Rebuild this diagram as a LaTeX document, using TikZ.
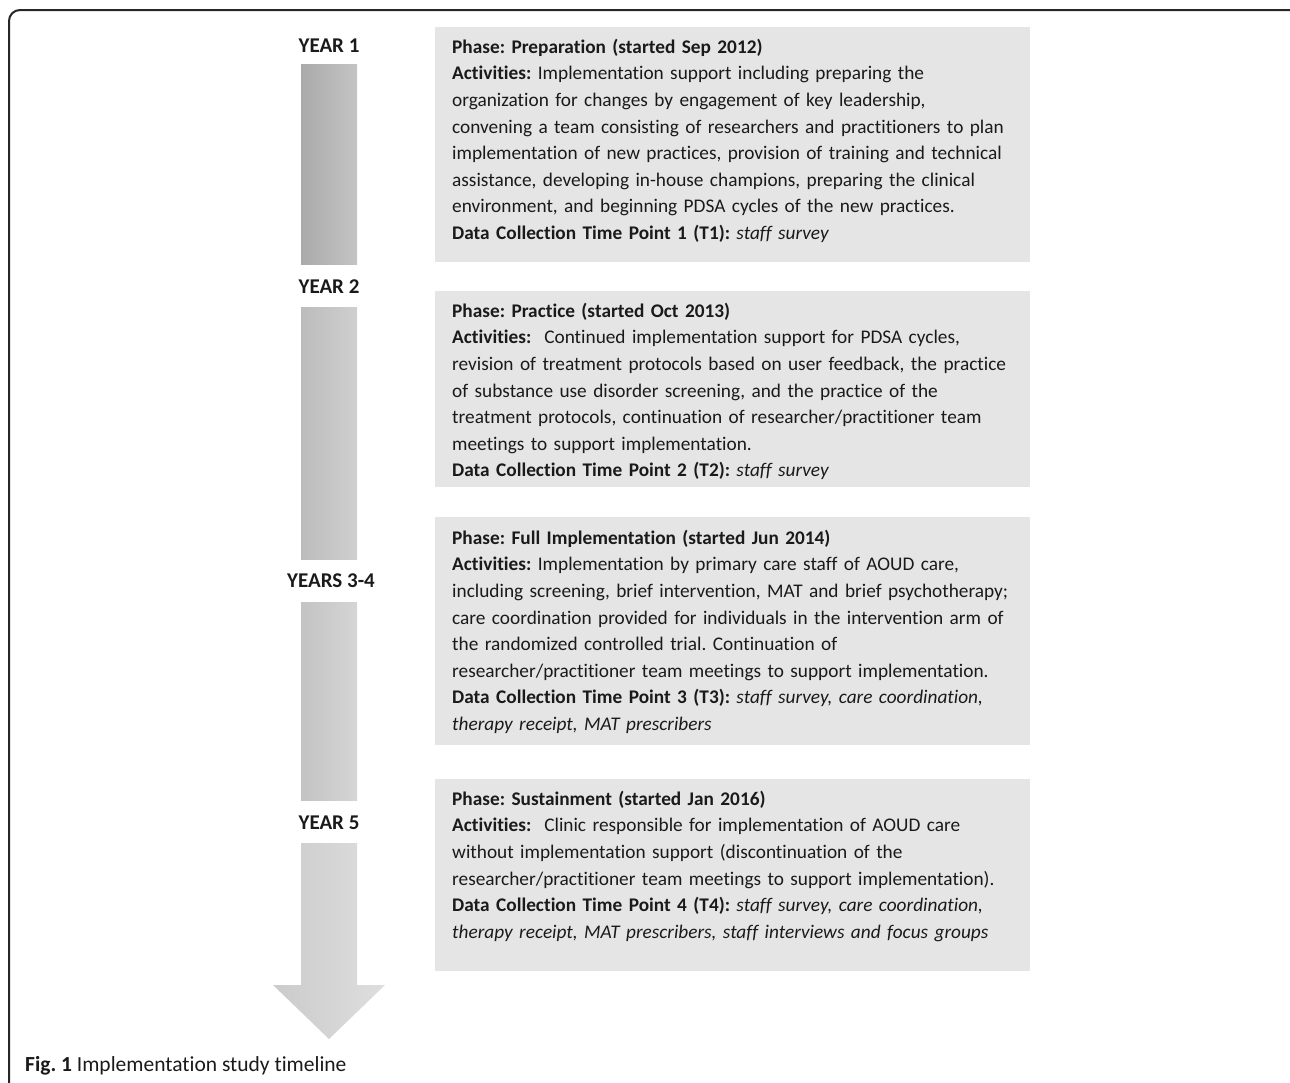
\documentclass[tikz,border=0pt]{standalone}
\usepackage{fontspec}
\setmainfont[Ligatures=NoCommon]{Carlito}
\definecolor{boxgray}{RGB}{229,229,229}
\definecolor{txt}{RGB}{26,26,26}
\frenchspacing
\begin{document}
\begin{tikzpicture}[x=1pt,y=-1pt,
  yearlabel/.style={font=\fontsize{21}{24}\selectfont\bfseries, text=txt, inner sep=0pt, anchor=base},
  phasebox/.style={fill=boxgray, draw=none},
  phasetext/.style={font=\fontsize{19.3}{26.6}\selectfont, text=txt, inner sep=0pt, anchor=north west, text width=600pt, align=left},
  frameline/.style={line width=2pt, draw=black!85, rounded corners=11pt}
]
\useasboundingbox (0,0) rectangle (1290,1082);
\begin{scope}
\clip (0,0) rectangle (1290,1082);
\draw[frameline] (9,10) rectangle (1300,1110);
\end{scope}

% timeline bars
\shade[left color={rgb,255:red,170;green,170;blue,170}, right color={rgb,255:red,196;green,196;blue,196}] (301,64) rectangle (357,264);
\shade[left color={rgb,255:red,188;green,188;blue,188}, right color={rgb,255:red,207;green,207;blue,207}] (301,307) rectangle (357,559);
\shade[left color={rgb,255:red,195;green,195;blue,195}, right color={rgb,255:red,213;green,213;blue,213}] (301,602) rectangle (357,800);
\shade[left color={rgb,255:red,203;green,203;blue,203}, right color={rgb,255:red,222;green,222;blue,222}]
  (301,843) -- (357,843) -- (357,985) -- (385,985) -- (329,1039) -- (273,985) -- (301,985) -- cycle;

% year labels
\node[yearlabel] (y1) at (329,52) {YEAR 1};
\node[yearlabel] (y2) at (329,293) {YEAR 2};
\node[yearlabel] (y34) at (331,587) {YEARS 3-4};
\node[yearlabel] (y5) at (329,829) {YEAR 5};

% boxes
\fill[phasebox] (435,27) rectangle (1030,262);
\fill[phasebox] (435,291) rectangle (1030,487);
\fill[phasebox] (435,517) rectangle (1030,745);
\fill[phasebox] (435,779) rectangle (1030,971);

\node[phasetext] (t1) at (452,38) {\rule{0pt}{15pt}\textbf{Phase: Preparation (started Sep 2012)}\\
\textbf{Activities:} Implementation support including preparing the\\
organization for changes by engagement of key leadership,\\
convening a team consisting of researchers and practitioners to plan\\
implementation of new practices, provision of training and technical\\
assistance, developing in-house champions, preparing the clinical\\
environment, and beginning PDSA cycles of the new practices.\\
\textbf{Data Collection Time Point 1 (T1):} \textit{staff survey}};

\node[phasetext] (t2) at (452,302) {\rule{0pt}{15pt}\textbf{Phase: Practice (started Oct 2013)}\\
\textbf{Activities:}\ \ Continued implementation support for PDSA cycles,\\
revision of treatment protocols based on user feedback, the practice\\
of substance use disorder screening, and the practice of the\\
treatment protocols, continuation of researcher/practitioner team\\
meetings to support implementation.\\
\textbf{Data Collection Time Point 2 (T2):} \textit{staff survey}};

\node[phasetext] (t3) at (452,529) {\rule{0pt}{15pt}\textbf{Phase: Full Implementation (started Jun 2014)}\\
\textbf{Activities:} Implementation by primary care staff of AOUD care,\\
including screening, brief intervention, MAT and brief psychotherapy;\\
care coordination provided for individuals in the intervention arm of\\
the randomized controlled trial. Continuation of\\
researcher/practitioner team meetings to support implementation.\\
\textbf{Data Collection Time Point 3 (T3):} \textit{staff survey, care coordination,}\\
\textit{therapy receipt, MAT prescribers}};

\node[phasetext] (t4) at (452,790) {\rule{0pt}{15pt}\textbf{Phase: Sustainment (started Jan 2016)}\\
\textbf{Activities:}\ \ Clinic responsible for implementation of AOUD care\\
without implementation support (discontinuation of the\\
researcher/practitioner team meetings to support implementation).\\
\textbf{Data Collection Time Point 4 (T4):} \textit{staff survey, care coordination,}\\
\textit{therapy receipt, MAT prescribers, staff interviews and focus groups}};

% caption
\node[font=\fontsize{21.5}{24}\selectfont, text=txt, inner sep=0pt, anchor=base west] (cap) at (25,1071) {\textbf{Fig. 1} Implementation study timeline};
\end{tikzpicture}
\end{document}
